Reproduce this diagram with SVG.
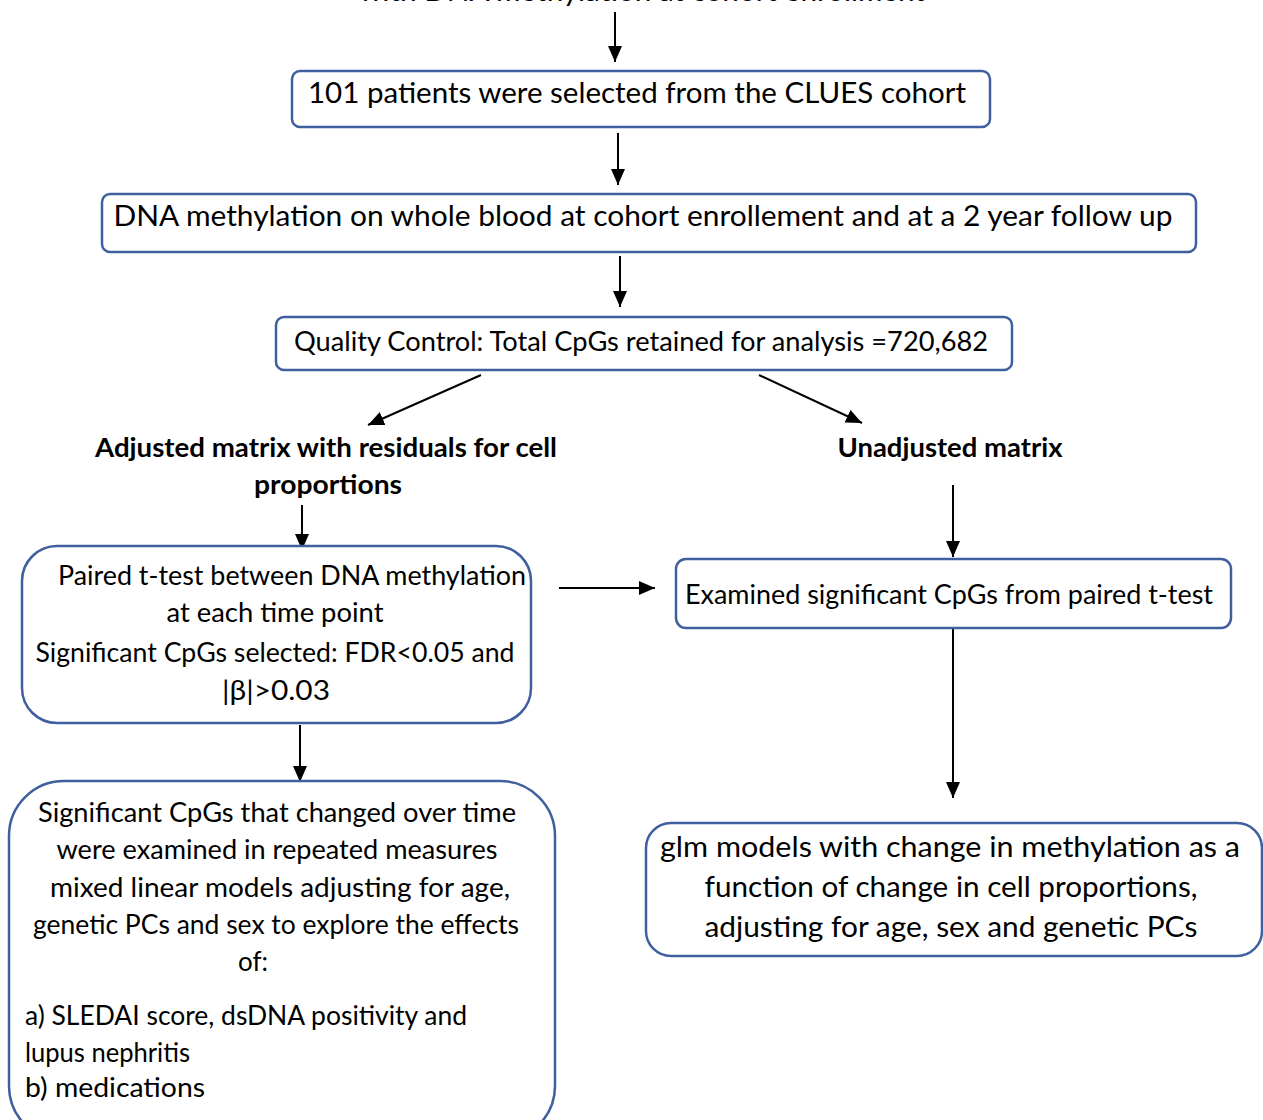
<svg xmlns="http://www.w3.org/2000/svg" width="1263" height="1120" viewBox="0 0 1263 1120">
<style>
.box{fill:#fff;stroke:#3F5F9F;stroke-width:2.5}
.t{font-family:Lato,"Open Sans","Liberation Sans",sans-serif;fill:#000;lengthAdjust:spacingAndGlyphs}
.b{font-weight:bold}
.c{stroke:#000;stroke-width:2;fill:none;marker-end:url(#ah)}
</style>
<defs>
<marker id="ah" markerUnits="userSpaceOnUse" markerWidth="16" markerHeight="14" refX="16" refY="7" orient="auto">
<path d="M0,0 L16,7 L0,14 z" fill="#000"/>
</marker>
</defs>
<rect width="1263" height="1120" fill="#fff"/>
<g id="top">
<text class="t" x="642" y="1" font-size="27" text-anchor="middle" textLength="566" lengthAdjust="spacingAndGlyphs">with DNA methylation at cohort enrollment</text>
</g>
<g id="connectors">
<line class="c" x1="615" y1="12" x2="615" y2="62"/>
<line class="c" x1="618" y1="133" x2="618" y2="185"/>
<line class="c" x1="620" y1="256" x2="620" y2="307"/>
<line class="c" x1="481" y1="375" x2="368" y2="425"/>
<line class="c" x1="759" y1="375" x2="862" y2="423"/>
<line class="c" x1="302" y1="505" x2="302" y2="550"/>
<line class="c" x1="953" y1="485" x2="953" y2="557"/>
<line class="c" x1="559" y1="588" x2="655" y2="588"/>
<line class="c" x1="953" y1="628" x2="953" y2="798"/>
<line class="c" x1="300" y1="725" x2="300" y2="782"/>
</g>
<g id="n1">
<rect class="box" x="292" y="71" width="698" height="56" rx="8"/>
<text class="t" x="637" y="103" font-size="28" text-anchor="middle" textLength="658" lengthAdjust="spacingAndGlyphs">101 patients were selected from the CLUES cohort</text>
</g>
<g id="n2">
<rect class="box" x="102" y="194" width="1094" height="58" rx="8"/>
<text class="t" x="643" y="226" font-size="28" text-anchor="middle" textLength="1059" lengthAdjust="spacingAndGlyphs">DNA methylation on whole blood at cohort enrollement and at a 2 year follow up</text>
</g>
<g id="n3">
<rect class="box" x="276" y="317" width="736" height="53" rx="8"/>
<text class="t" x="641" y="351" font-size="26" text-anchor="middle" textLength="694" lengthAdjust="spacingAndGlyphs">Quality Control: Total CpGs retained for analysis =720,682</text>
</g>
<g id="n-adj">
<text class="t b" x="326" y="457" font-size="26" text-anchor="middle" textLength="462" lengthAdjust="spacingAndGlyphs">Adjusted matrix with residuals for cell</text>
<text class="t b" x="328" y="494" font-size="26" text-anchor="middle" textLength="148" lengthAdjust="spacingAndGlyphs">proportions</text>
</g>
<g id="n-unadj">
<text class="t b" x="950" y="457" font-size="26" text-anchor="middle" textLength="225" lengthAdjust="spacingAndGlyphs">Unadjusted matrix</text>
</g>
<g id="n4">
<rect class="box" x="22" y="546" width="509" height="177" rx="35"/>
<text class="t" x="292" y="585" font-size="26" text-anchor="middle" textLength="468" lengthAdjust="spacingAndGlyphs">Paired t-test between DNA methylation</text>
<text class="t" x="275" y="622" font-size="26" text-anchor="middle" textLength="217" lengthAdjust="spacingAndGlyphs">at each time point</text>
<text class="t" x="275" y="662" font-size="26" text-anchor="middle" textLength="479" lengthAdjust="spacingAndGlyphs">Significant CpGs selected: FDR&lt;0.05 and</text>
<text class="t" x="276" y="700" font-size="26" text-anchor="middle" textLength="108" lengthAdjust="spacingAndGlyphs">|β|&gt;0.03</text>
</g>
<g id="n5">
<rect class="box" x="676" y="559" width="555" height="69" rx="10"/>
<text class="t" x="949" y="604" font-size="26" text-anchor="middle" textLength="528" lengthAdjust="spacingAndGlyphs">Examined significant CpGs from paired t-test</text>
</g>
<g id="n6">
<rect class="box" x="646" y="823" width="616" height="133" rx="25"/>
<text class="t" x="950" y="857" font-size="28" text-anchor="middle" textLength="580" lengthAdjust="spacingAndGlyphs">glm models with change in methylation as a</text>
<text class="t" x="951" y="897" font-size="28" text-anchor="middle" textLength="493" lengthAdjust="spacingAndGlyphs">function of change in cell proportions,</text>
<text class="t" x="951" y="937" font-size="28" text-anchor="middle" textLength="493" lengthAdjust="spacingAndGlyphs">adjusting for age, sex and genetic PCs</text>
</g>
<g id="n7">
<rect class="box" x="9" y="781" width="546" height="360" rx="55"/>
<text class="t" x="277" y="822" font-size="26" text-anchor="middle" textLength="478" lengthAdjust="spacingAndGlyphs">Significant CpGs that changed over time</text>
<text class="t" x="277" y="859" font-size="26" text-anchor="middle" textLength="441" lengthAdjust="spacingAndGlyphs">were examined in repeated measures</text>
<text class="t" x="280" y="897" font-size="26" text-anchor="middle" textLength="460" lengthAdjust="spacingAndGlyphs">mixed linear models adjusting for age,</text>
<text class="t" x="276" y="934" font-size="26" text-anchor="middle" textLength="486" lengthAdjust="spacingAndGlyphs">genetic PCs and sex to explore the effects</text>
<text class="t" x="253" y="971" font-size="26" text-anchor="middle" textLength="30" lengthAdjust="spacingAndGlyphs">of:</text>
<text class="t" x="25" y="1025" font-size="26" textLength="442" lengthAdjust="spacingAndGlyphs">a) SLEDAI score, dsDNA positivity and</text>
<text class="t" x="25" y="1062" font-size="26" textLength="165" lengthAdjust="spacingAndGlyphs">lupus nephritis</text>
<text class="t" x="25" y="1097" font-size="26" textLength="180" lengthAdjust="spacingAndGlyphs">b) medications</text>
</g>
</svg>
